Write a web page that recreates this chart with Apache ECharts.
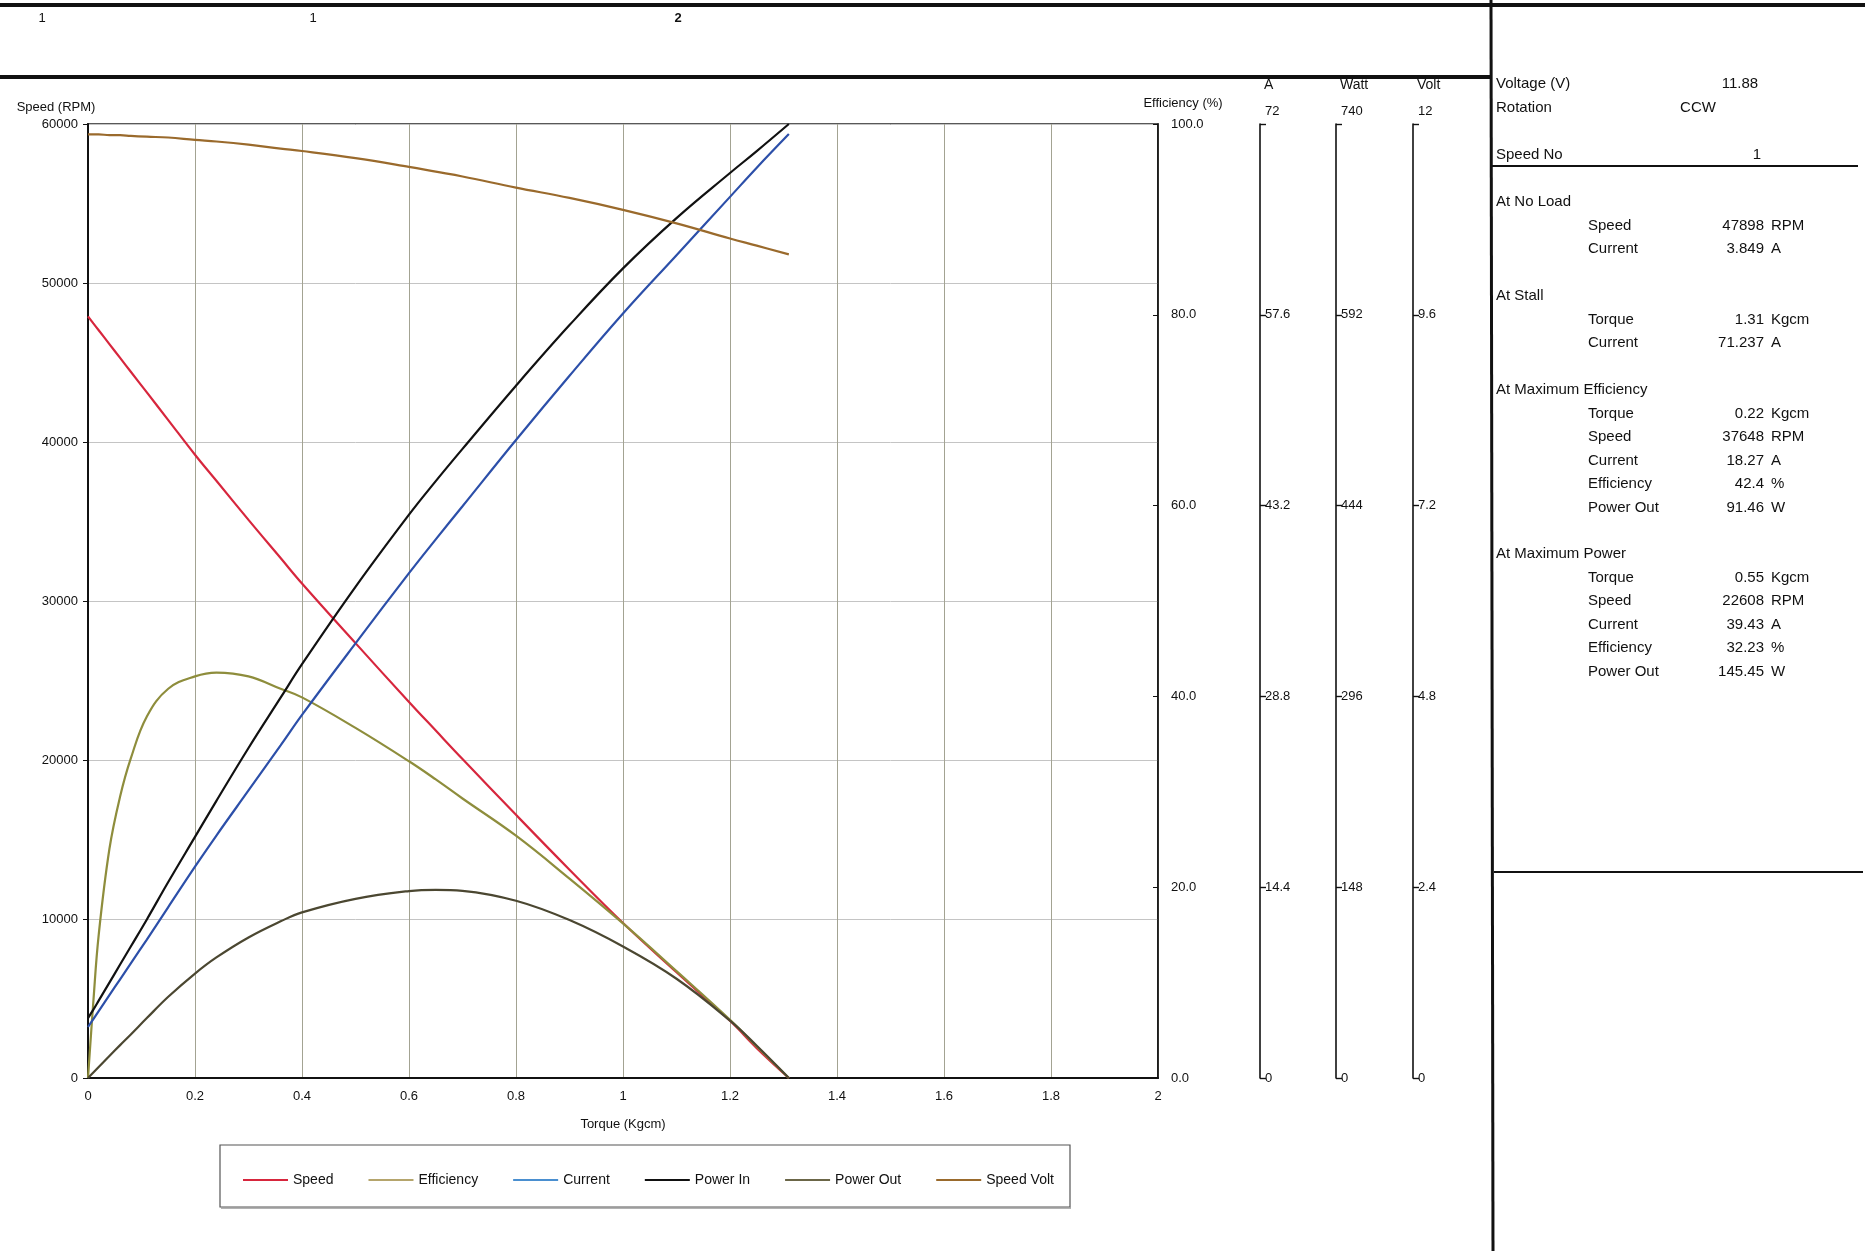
<!DOCTYPE html>
<html>
<head>
<meta charset="utf-8">
<script src="https://cdn.jsdelivr.net/npm/echarts@6/dist/echarts.min.js"></script>
<style>
html,body{margin:0;padding:0;background:#fff;}
#c{width:1865px;height:1251px;}
</style>
</head>
<body>
<div id="c"></div>
<script>
// ---- data ----
const torque     = [0, 0.01, 0.02, 0.04, 0.06, 0.08, 0.11, 0.15, 0.2, 0.24, 0.3, 0.36, 0.4, 0.5, 0.6, 0.65, 0.7, 0.8, 0.9, 1.0, 1.1, 1.2, 1.25, 1.31];
const speed      = [47898, 47460, 47030, 46160, 45290, 44420, 43120, 41380, 39200, 37560, 35100, 32700, 31100, 27350, 23650, 21850, 20060, 16550, 13100, 9750, 6650, 3600, 1880, 0];
const efficiency = [0, 8, 15, 24, 29.5, 33.5, 37.9, 40.8, 42.1, 42.5, 42.1, 40.8, 39.9, 36.7, 33.2, 31.3, 29.3, 25.4, 20.9, 16.2, 11.2, 6.1, 3.3, 0];
const current    = [3.849, 4.45, 5.05, 6.25, 7.45, 8.65, 10.45, 12.9, 15.95, 18.3, 21.7, 25.1, 27.4, 32.8, 38.1, 40.65, 43.15, 48.15, 53.0, 57.7, 62.1, 66.5, 68.7, 71.237];
const powerIn    = [46.5, 53, 60, 74, 88, 102, 123, 152, 187, 215, 256, 295, 321, 381, 437, 463, 488, 537, 584, 628, 667, 702, 719, 740];
const powerOut   = [0, 4.3, 8.6, 17.1, 25.5, 33.8, 46.5, 63, 81, 93.5, 109, 121.5, 128.5, 139, 145, 146, 145.2, 137.5, 122.5, 102, 77, 44.5, 25, 0];
const speedVolt  = [11.87, 11.87, 11.87, 11.86, 11.86, 11.85, 11.84, 11.83, 11.80, 11.78, 11.74, 11.69, 11.66, 11.57, 11.46, 11.40, 11.34, 11.20, 11.07, 10.92, 10.75, 10.56, 10.47, 10.36];

const seriesNames = ['Speed', 'Efficiency', 'Current', 'Power In', 'Power Out', 'Speed Volt'];
const headerLabels = ['1', '1', '2'];

// axis ranges / ticks
const speedAxis = {min: 0, max: 60000, interval: 10000};
const effAxis   = {min: 0, max: 100, interval: 20};
const ampAxis   = {min: 0, max: 72, interval: 14.4};
const wattAxis  = {min: 0, max: 740, interval: 148};
const voltAxis  = {min: 0, max: 12, interval: 2.4};
const torqueAxis = {min: 0, max: 2, interval: 0.2};

// info panel
const infoTop = [['Voltage (V)', '11.88'], ['Rotation', 'CCW'], ['Speed No', '1']];
const infoGroups = [
  {title: 'At No Load', rows: [['Speed', '47898', 'RPM'], ['Current', '3.849', 'A']]},
  {title: 'At Stall', rows: [['Torque', '1.31', 'Kgcm'], ['Current', '71.237', 'A']]},
  {title: 'At Maximum Efficiency', rows: [['Torque', '0.22', 'Kgcm'], ['Speed', '37648', 'RPM'], ['Current', '18.27', 'A'], ['Efficiency', '42.4', '%'], ['Power Out', '91.46', 'W']]},
  {title: 'At Maximum Power', rows: [['Torque', '0.55', 'Kgcm'], ['Speed', '22608', 'RPM'], ['Current', '39.43', 'A'], ['Efficiency', '32.23', '%'], ['Power Out', '145.45', 'W']]}
];

// ---- build ----
const FONT = '"Liberation Sans", Arial, sans-serif';
const pairs = arr => torque.map((t, i) => [t, arr[i]]);
const colors = ['#d7263d', '#8e8d3c', '#2c4fa9', '#111111', '#4b4731', '#9a6a2c'];
const legendColors = ['#d7263d', '#b5a56c', '#4a8fd0', '#111111', '#6b6648', '#9a6a2c'];
const dataSets = [speed, efficiency, current, powerIn, powerOut, speedVolt];
const yIdx = [0, 1, 2, 3, 3, 4];

function fmt1(v){ return (Math.round(v * 10) / 10).toString(); }

function sideAxis(cfg, name, offset, formatter){
  return {
    type: 'value', position: 'right', offset: offset,
    min: cfg.min, max: cfg.max, interval: cfg.interval,
    name: name, nameLocation: 'end', nameGap: 32,
    nameTextStyle: {fontFamily: FONT, fontSize: 14, color: '#111', align: 'left', padding: [0, 0, 0, 4]},
    axisLine: {show: true, lineStyle: {color: '#111', width: 1.6}},
    axisTick: {show: true, length: 6, lineStyle: {color: '#111', width: 1.4}},
    axisLabel: {
      fontFamily: FONT, fontSize: 13, color: '#111', margin: 5,
      formatter: v => (Math.abs(v - cfg.max) < 1e-6) ? '{t|' + formatter(v) + '}' : formatter(v),
      rich: {t: {fontFamily: FONT, fontSize: 13, color: '#111', padding: [0, 0, 26, 0]}}
    },
    splitLine: {show: false}
  };
}

const graphics = [];
// frame lines
graphics.push({type: 'line', shape: {x1: 0, y1: 5, x2: 1865, y2: 5}, style: {stroke: '#111', lineWidth: 4}});
graphics.push({type: 'line', shape: {x1: 0, y1: 77, x2: 1491, y2: 77}, style: {stroke: '#111', lineWidth: 4}});
graphics.push({type: 'line', shape: {x1: 1491, y1: 0, x2: 1493, y2: 1251}, style: {stroke: '#111', lineWidth: 3}});
graphics.push({type: 'line', shape: {x1: 1491, y1: 166, x2: 1858, y2: 166}, style: {stroke: '#111', lineWidth: 2}});
graphics.push({type: 'line', shape: {x1: 1494, y1: 872, x2: 1863, y2: 872}, style: {stroke: '#111', lineWidth: 2}});
// header labels
const headerX = [42, 313, 678];
headerLabels.forEach((t, i) => {
  graphics.push({type: 'text', x: headerX[i], y: 18, style: {text: t, fontFamily: FONT, fontSize: 13, fontWeight: i === 2 ? 'bold' : 'normal', fill: '#111', align: 'center', verticalAlign: 'middle'}});
});
// legend box
graphics.push({type: 'rect', shape: {x: 220, y: 1145, width: 850, height: 62}, style: {fill: 'none', stroke: '#555', lineWidth: 1.2}, z: 1});
graphics.push({type: 'line', shape: {x1: 221, y1: 1208, x2: 1071, y2: 1208}, style: {stroke: '#999', lineWidth: 1.5}, z: 1});
// info panel
const infoTopY = [84, 108, 155];
const infoTopX = [1740, 1698, 1757];
infoTop.forEach((r, i) => {
  graphics.push({type: 'text', x: 1496, y: infoTopY[i], style: {text: r[0], fontFamily: FONT, fontSize: 15, fill: '#111', verticalAlign: 'middle'}});
  graphics.push({type: 'text', x: infoTopX[i], y: infoTopY[i], style: {text: r[1], fontFamily: FONT, fontSize: 15, fill: '#111', align: 'center', verticalAlign: 'middle'}});
});
const groupTitleY = [202, 296, 390, 554];
infoGroups.forEach((g, gi) => {
  graphics.push({type: 'text', x: 1496, y: groupTitleY[gi], style: {text: g.title, fontFamily: FONT, fontSize: 15, fill: '#111', verticalAlign: 'middle'}});
  g.rows.forEach((r, ri) => {
    const y = groupTitleY[gi] + 23.5 * (ri + 1);
    graphics.push({type: 'text', x: 1588, y: y, style: {text: r[0], fontFamily: FONT, fontSize: 15, fill: '#111', verticalAlign: 'middle'}});
    graphics.push({type: 'text', x: 1764, y: y, style: {text: r[1], fontFamily: FONT, fontSize: 15, fill: '#111', align: 'right', verticalAlign: 'middle'}});
    graphics.push({type: 'text', x: 1771, y: y, style: {text: r[2], fontFamily: FONT, fontSize: 15, fill: '#111', verticalAlign: 'middle'}});
  });
});

const option = {
  animation: false,
  backgroundColor: '#ffffff',
  textStyle: {fontFamily: FONT},
  grid: {left: 88, right: 707, top: 124, bottom: 173, show: true, borderColor: '#222', borderWidth: 1.6, backgroundColor: 'transparent'},
  legend: {
    left: 238, top: 1168, itemWidth: 45, itemHeight: 14, itemGap: 35,
    icon: 'path://M0,6L45,6L45,8L0,8Z',
    textStyle: {fontFamily: FONT, fontSize: 14, color: '#111'},
    data: seriesNames.map((n, i) => ({name: n, itemStyle: {color: legendColors[i]}}))
  },
  xAxis: {
    type: 'value', min: torqueAxis.min, max: torqueAxis.max, interval: torqueAxis.interval,
    name: 'Torque (Kgcm)', nameLocation: 'middle', nameGap: 40,
    nameTextStyle: {fontFamily: FONT, fontSize: 13, color: '#111'},
    axisLine: {show: true, onZero: false, lineStyle: {color: '#111', width: 2}},
    axisTick: {show: false},
    axisLabel: {fontFamily: FONT, fontSize: 13, color: '#111', margin: 12},
    splitLine: {show: true, lineStyle: {color: '#a3a392', width: 1}}
  },
  yAxis: [
    {
      type: 'value', position: 'left', min: speedAxis.min, max: speedAxis.max, interval: speedAxis.interval,
      name: 'Speed (RPM)', nameLocation: 'end', nameGap: 10,
      nameTextStyle: {fontFamily: FONT, fontSize: 13, color: '#111', align: 'center', padding: [0, 64, 0, 0]},
      axisLine: {show: true, lineStyle: {color: '#111', width: 2}},
      axisTick: {show: true, length: 5, lineStyle: {color: '#111'}},
      axisLabel: {fontFamily: FONT, fontSize: 13, color: '#111', margin: 10, formatter: v => String(v)},
      splitLine: {show: true, lineStyle: {color: '#c4c4c4', width: 1}}
    },
    {
      type: 'value', position: 'right', offset: 0, min: effAxis.min, max: effAxis.max, interval: effAxis.interval,
      name: 'Efficiency (%)', nameLocation: 'end', nameGap: 14,
      nameTextStyle: {fontFamily: FONT, fontSize: 13, color: '#111', align: 'center', padding: [0, 0, 0, 50]},
      axisLine: {show: true, lineStyle: {color: '#111', width: 1.6}},
      axisTick: {show: true, inside: true, length: 5, lineStyle: {color: '#111'}},
      axisLabel: {fontFamily: FONT, fontSize: 13, color: '#111', margin: 13, formatter: v => v.toFixed(1)},
      splitLine: {show: false}
    },
    sideAxis(ampAxis, 'A', 102, fmt1),
    sideAxis(wattAxis, 'Watt', 178, v => Math.round(v).toString()),
    sideAxis(voltAxis, 'Volt', 255, fmt1)
  ],
  series: seriesNames.map((n, i) => ({
    name: n, type: 'line', yAxisIndex: yIdx[i], data: pairs(dataSets[i]),
    showSymbol: false, symbol: 'none', smooth: 0.4,
    lineStyle: {color: colors[i], width: 2.2}, itemStyle: {color: colors[i]}, z: 3 + i
  })),
  graphic: graphics
};

const chart = echarts.init(document.getElementById('c'), null, {renderer: 'canvas'});
chart.setOption(option);
</script>
</body>
</html>
